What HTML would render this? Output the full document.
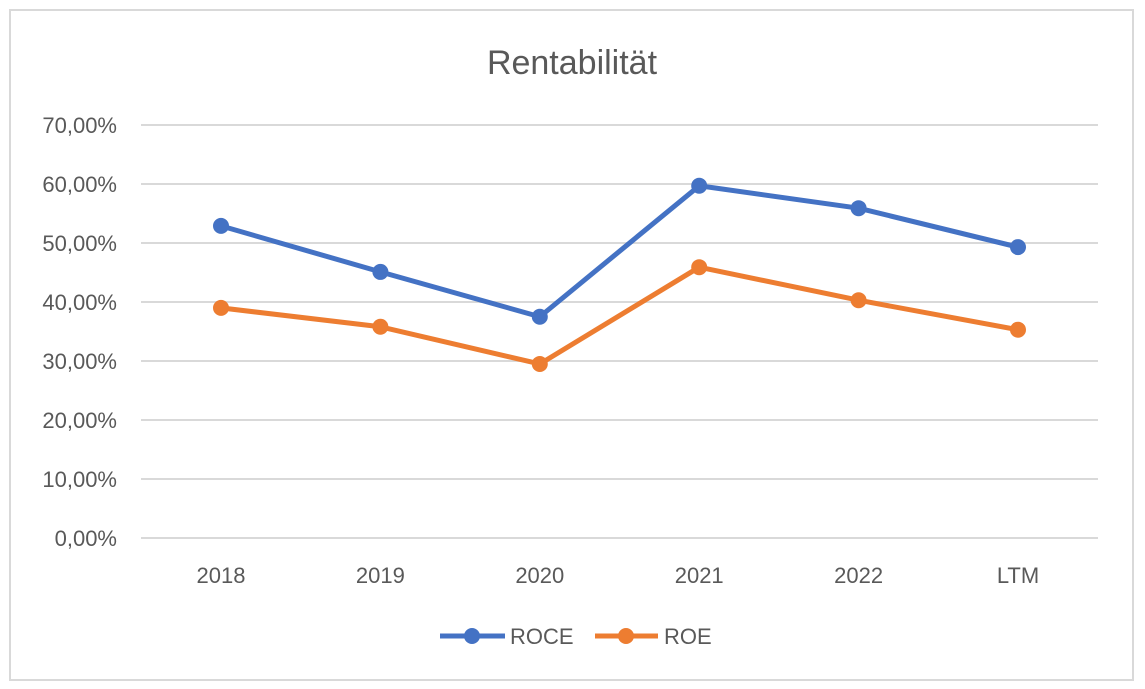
<!DOCTYPE html>
<html><head><meta charset="utf-8"><style>
body{margin:0;background:#fff;}
svg{display:block;font-family:"Liberation Sans",Calibri,sans-serif;}
</style></head><body>
<svg width="1145" height="689">
<rect x="10" y="10" width="1123" height="670" fill="#fff" stroke="#d9d9d9" stroke-width="2"/>
<text x="572" y="74" text-anchor="middle" font-size="34" fill="#595959">Rentabilität</text>
<g id="grid"></g><g id="ylab"></g><g id="xlab"></g><g id="series"></g>
<g>
<g>
<line x1="440" y1="636" x2="505" y2="636" stroke="#4472C4" stroke-width="5"/>
<circle cx="472" cy="636" r="8" fill="#4472C4"/>
<text x="510" y="644" font-size="22" fill="#595959">ROCE</text></g>
<g>
<line x1="595" y1="636" x2="658" y2="636" stroke="#ED7D31" stroke-width="5"/>
<circle cx="626" cy="636" r="8" fill="#ED7D31"/>
<text x="664" y="644" font-size="22" fill="#595959">ROE</text></g>
</g>
</svg>
<script>
const categories=["2018","2019","2020","2021","2022","LTM"];
const roce=[52.9,45.1,37.5,59.7,55.9,49.3];
const roe=[39.0,35.8,29.5,45.9,40.3,35.3];
const yTicks=[0,10,20,30,40,50,60,70];
const yTickLabels=["0,00%","10,00%","20,00%","30,00%","40,00%","50,00%","60,00%","70,00%"];
const NS="http://www.w3.org/2000/svg";
const y=v=>538-v*5.9;
const x=i=>221+i*159.4;
function mk(t,a,p){const e=document.createElementNS(NS,t);for(const k in a)e.setAttribute(k,a[k]);p.appendChild(e);return e;}
const g=document.getElementById('grid'),yl=document.getElementById('ylab'),xl=document.getElementById('xlab'),s=document.getElementById('series');
yTicks.forEach((v,i)=>{
 const l=mk('line',{x1:141,x2:1098,y1:y(v),y2:y(v),stroke:'#d9d9d9','stroke-width':2},g);
 
 
 const t=mk('text',{x:117,y:y(v)+8,'text-anchor':'end','font-size':22,fill:'#595959'},yl);
 t.textContent=yTickLabels[i];
 
 
});
categories.forEach((c,i)=>{
 const t=mk('text',{x:x(i),y:583,'text-anchor':'middle','font-size':22,fill:'#595959'},xl);
 t.textContent=c;
 
 
});
[[roce,'#4472C4','roce'],[roe,'#ED7D31','roe']].forEach(([d,col,n])=>{
 const p=mk('polyline',{points:d.map((v,i)=>x(i)+','+y(v)).join(' '),fill:'none',stroke:col,'stroke-width':5,'stroke-linejoin':'round'},s);
 
 
 d.forEach((v,i)=>{
  const c=mk('circle',{cx:x(i),cy:y(v),r:8,fill:col},s);
  
  
 });
});
</script>
</body></html>
